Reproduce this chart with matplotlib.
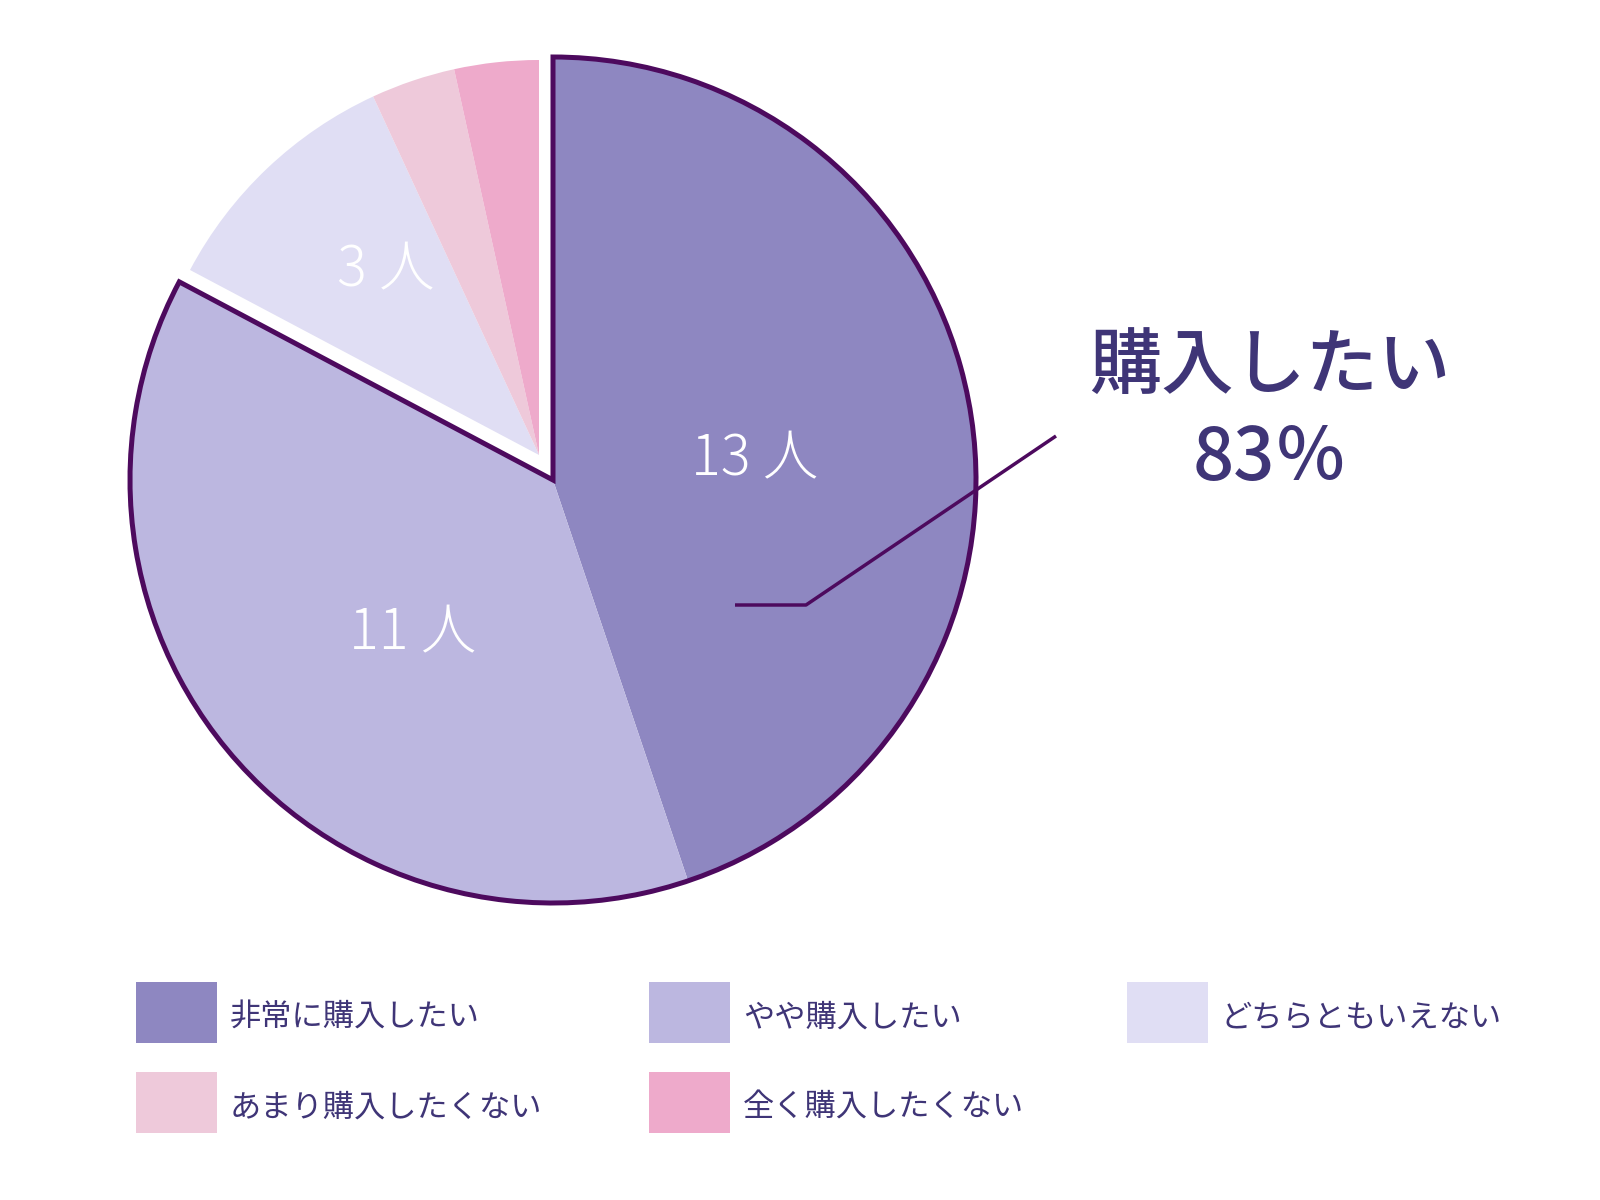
import matplotlib
matplotlib.use("Agg")
import matplotlib.pyplot as plt
from matplotlib.patches import Wedge, Rectangle

plt.rcParams['font.family'] = ['Noto Sans CJK JP', 'DejaVu Sans']

# data
categories = ['非常に購入したい', 'やや購入したい', 'どちらともいえない',
              'あまり購入したくない', '全く購入したくない']
counts = [13, 11, 3, 1, 1]
colors = ['#8E87C1', '#BCB7E0', '#E0DEF4', '#EEC9DA', '#EEAACB']
slice_labels = ['13 人', '11 人', '3 人', '', '']
summary_title = '購入したい'
summary_value = '83％'

text_color = '#3F3577'
edge_color = '#4D0A5E'

H = 1200
fig = plt.figure(figsize=(16, 12), dpi=100)
ax = fig.add_axes([0, 0, 1, 1])

# main pie (13 + 11) and the shifted smaller group (3, 1, 1)
main_c, main_r = (553, H - 480), 423
small_c, small_r = (539, H - 455), 395

w_main, _ = ax.pie(counts, colors=colors, startangle=90, counterclock=False,
                   center=main_c, radius=main_r, frame=True,
                   wedgeprops=dict(linewidth=0))
w_small, _ = ax.pie(counts, colors=colors, startangle=90, counterclock=False,
                    center=small_c, radius=small_r, frame=True,
                    wedgeprops=dict(linewidth=0))
for i, w in enumerate(w_main):
    w.set_visible(i < 2)
for i, w in enumerate(w_small):
    w.set_visible(i >= 2)

# outline around the "購入したい" group
t1 = w_main[1].theta1
t2 = w_main[0].theta2
ax.add_patch(Wedge(main_c, main_r, t1, t2 if t2 > t1 else t2 + 360,
                   fill=False, edgecolor=edge_color, linewidth=3.6,
                   joinstyle='miter', zorder=5))

ax.set_xlim(0, 1600)
ax.set_ylim(0, H)
ax.set_aspect('equal')
ax.axis('off')

# slice labels
label_pos = [(755, 459), (413, 633), (386, 270)]
for lab, (x, y) in zip(slice_labels, label_pos):
    ax.text(x, H - y, lab, color='white', fontsize=40, fontweight='light',
            ha='center', va='center', zorder=6)

# leader line and summary
ax.plot([735, 806, 1056], [H - 605, H - 605, H - 436], color=edge_color,
        lw=2.5, solid_capstyle='butt', zorder=7)
ax.text(1270, H - 367, summary_title, color=text_color, fontsize=52,
        fontweight='medium', ha='center', va='center')
ax.text(1270, H - 459, summary_value, color=text_color, fontsize=52,
        fontweight='medium', ha='center', va='center')

# legend
leg_x = [136, 649, 1127]
leg_y = [982, 1072]
for i, (cat, col) in enumerate(zip(categories, colors)):
    x = leg_x[i % 3]
    y = leg_y[i // 3]
    ax.add_patch(Rectangle((x, H - y - 61), 81, 61, facecolor=col,
                           edgecolor='none'))
    ax.text(x + 94, H - y - 36, cat, color=text_color, fontsize=22.5,
            ha='left', va='center')

fig.savefig('out.png', dpi=100)
